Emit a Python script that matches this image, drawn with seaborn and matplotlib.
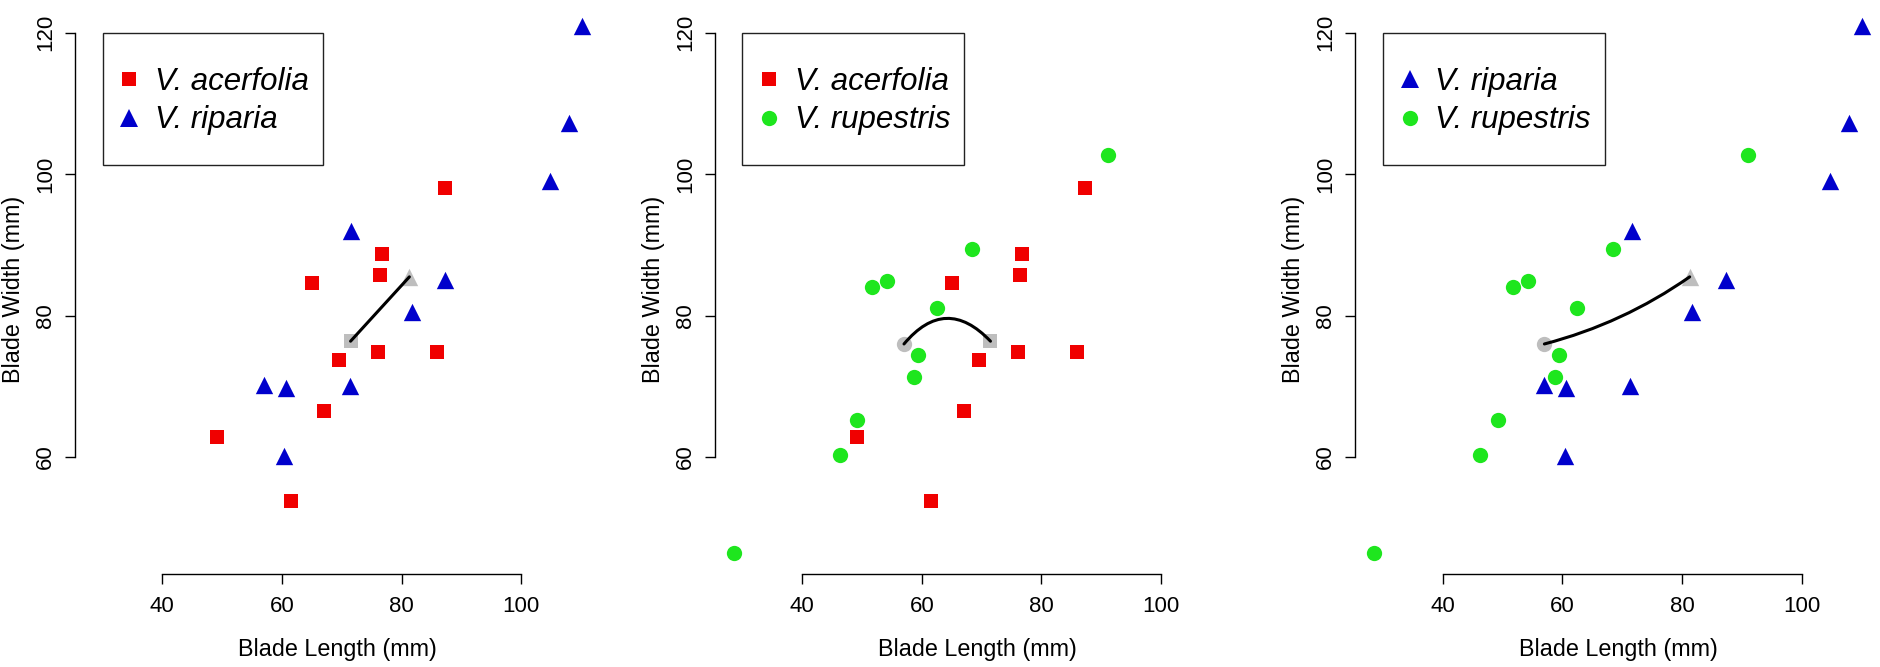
import numpy as np
import pandas as pd
import matplotlib
matplotlib.use("Agg")
import matplotlib.pyplot as plt
import seaborn as sns
from matplotlib.lines import Line2D
from matplotlib.patches import FancyArrowPatch, Rectangle
from matplotlib.transforms import ScaledTranslation
from matplotlib.font_manager import FontProperties

# ---------------- data ----------------
acer_len = [49.2, 61.5, 67.0, 65.1, 69.6, 76.0, 76.4, 76.8, 85.9, 87.2]
acer_wid = [62.8, 53.8, 66.5, 84.6, 73.7, 74.9, 85.8, 88.7, 74.9, 98.1]

rip_len = [110.1, 108.0, 104.8, 71.6, 87.3, 81.7, 57.0, 60.7, 71.4, 60.4]
rip_wid = [120.9, 107.2, 99.0, 91.9, 85.0, 80.5, 70.2, 69.8, 70.1, 60.2]

rup_len = [28.6, 46.3, 49.2, 51.7, 54.2, 62.5, 68.4, 59.4, 58.7, 91.1]
rup_wid = [46.4, 60.3, 65.3, 84.1, 84.9, 81.1, 89.4, 74.4, 71.3, 102.7]

species = ["V. acerfolia", "V. riparia", "V. rupestris"]
x_ticks = [40, 60, 80, 100]
y_ticks = [60, 80, 100, 120]
x_label = "Blade Length (mm)"
y_label = "Blade Width (mm)"
legend_xy = (30, 120)

# panel pairs: (from species, to species, curvature of the mean-to-mean line)
panel_pairs = [("V. acerfolia", "V. riparia", 0.0),
               ("V. acerfolia", "V. rupestris", 0.56),
               ("V. riparia", "V. rupestris", -0.09)]

colors = {"V. acerfolia": "#F00000", "V. riparia": "#0000CC", "V. rupestris": "#1EE61E"}
markers = {"V. acerfolia": "s", "V. riparia": "^", "V. rupestris": "o"}
msize = {"s": 10.5, "^": 12.5, "o": 11.0}
mean_color = "#BEBEBE"

df = pd.concat([
    pd.DataFrame({"species": species[0], "length": acer_len, "width": acer_wid}),
    pd.DataFrame({"species": species[1], "length": rip_len, "width": rip_wid}),
    pd.DataFrame({"species": species[2], "length": rup_len, "width": rup_wid}),
], ignore_index=True)

# R-style limits: full data range with 4% padding
def rlim(v):
    lo, hi = float(np.min(v)), float(np.max(v))
    pad = 0.04 * (hi - lo)
    return lo - pad, hi + pad

xlim = rlim(df["length"])
ylim = rlim(df["width"])

sns.set_style("ticks")
plt.rcParams["font.family"] = ["Liberation Sans", "DejaVu Sans"]
plt.rcParams["axes.edgecolor"] = "black"
plt.rcParams["axes.linewidth"] = 1.0
plt.rcParams["text.color"] = "black"
plt.rcParams["axes.labelcolor"] = "black"
plt.rcParams["xtick.color"] = "black"
plt.rcParams["ytick.color"] = "black"

W, H = 1880, 667
fig = plt.figure(figsize=(W / 100, H / 100), dpi=100)

lefts_px = [74.7, 714.6, 1355.0]
ax_w = 526.4 / W
ax_bottom = (H - 574.3) / H
ax_h = 569.0 / H

leg_font = FontProperties(family=["Liberation Sans", "DejaVu Sans"], style="italic", size=22.5)

axes_legends = []
for i, (sp_a, sp_b, rad) in enumerate(panel_pairs):
    ax = fig.add_axes([lefts_px[i] / W, ax_bottom, ax_w, ax_h])
    for sp in (sp_a, sp_b):
        d = df[df["species"] == sp]
        m = markers[sp]
        sns.scatterplot(data=d, x="length", y="width", color=colors[sp], marker=m,
                        s=msize[m] ** 2, linewidth=0, ax=ax, legend=False, zorder=3)
    means = df[df["species"].isin([sp_a, sp_b])].groupby("species")[["length", "width"]].mean()
    for sp in (sp_a, sp_b):
        m = markers[sp]
        sns.scatterplot(x=[means.loc[sp, "length"]], y=[means.loc[sp, "width"]], color=mean_color,
                        marker=m, s=msize[m] ** 2, linewidth=0, ax=ax, legend=False, zorder=4)
    pa = (means.loc[sp_a, "length"], means.loc[sp_a, "width"])
    pb = (means.loc[sp_b, "length"], means.loc[sp_b, "width"])
    arc = FancyArrowPatch(posA=pa, posB=pb, connectionstyle=f"arc3,rad={rad}", arrowstyle="-",
                          color="black", lw=2.2, shrinkA=0, shrinkB=0, zorder=5)
    ax.add_patch(arc)

    ax.set_xlim(*xlim)
    ax.set_ylim(*ylim)
    ax.set_xticks(x_ticks)
    ax.set_yticks(y_ticks)
    sns.despine(ax=ax)
    ax.spines["left"].set_bounds(y_ticks[0], y_ticks[-1])
    ax.spines["bottom"].set_bounds(x_ticks[0], x_ticks[-1])
    ax.tick_params(direction="out", length=7.5, width=1.0, labelsize=16, colors="black")
    ax.tick_params(axis="x", pad=8)
    ax.tick_params(axis="y", pad=6, labelrotation=90)
    for lab in ax.get_yticklabels():
        lab.set_va("center")
    ax.set_xlabel(x_label, fontsize=16.8, va="center", color="black")
    ax.set_ylabel(y_label, fontsize=16.8, va="center", color="black")
    ax.xaxis.set_label_coords(0.5, -0.133)
    ax.yaxis.set_label_coords(-0.117, 0.5)

    handles = [Line2D([], [], linestyle="none", marker=markers[sp], color=colors[sp],
                      markersize=msize[markers[sp]], markeredgewidth=0, label=sp)
               for sp in (sp_a, sp_b)]
    offset = ScaledTranslation(15 / 100, -34 / 100, fig.dpi_scale_trans)
    leg = ax.legend(handles=handles, loc="upper left", bbox_to_anchor=legend_xy,
                    bbox_transform=ax.transData + offset, frameon=False, borderpad=0,
                    borderaxespad=0, handlelength=0.75, handletextpad=0.45, labelspacing=0.28,
                    prop=leg_font, labelcolor="black")
    leg.set_zorder(6)
    axes_legends.append((ax, leg))

fig.canvas.draw()
renderer = fig.canvas.get_renderer()
for ax, leg in axes_legends:
    bb = leg.get_window_extent(renderer)
    x0, top = ax.transData.transform(legend_xy)
    x1 = bb.x1 + 14
    bottom = bb.y0 - (top - bb.y1) + 4
    inv = ax.transAxes.inverted()
    (ax0, ay0), (ax1, ay1) = inv.transform([(x0, bottom), (x1, top)])
    rect = Rectangle((ax0, ay0), ax1 - ax0, ay1 - ay0, transform=ax.transAxes,
                     facecolor="white", edgecolor="#222222", linewidth=1.0, zorder=5.5,
                     clip_on=False)
    ax.add_patch(rect)

fig.savefig("out.png", dpi=100)
